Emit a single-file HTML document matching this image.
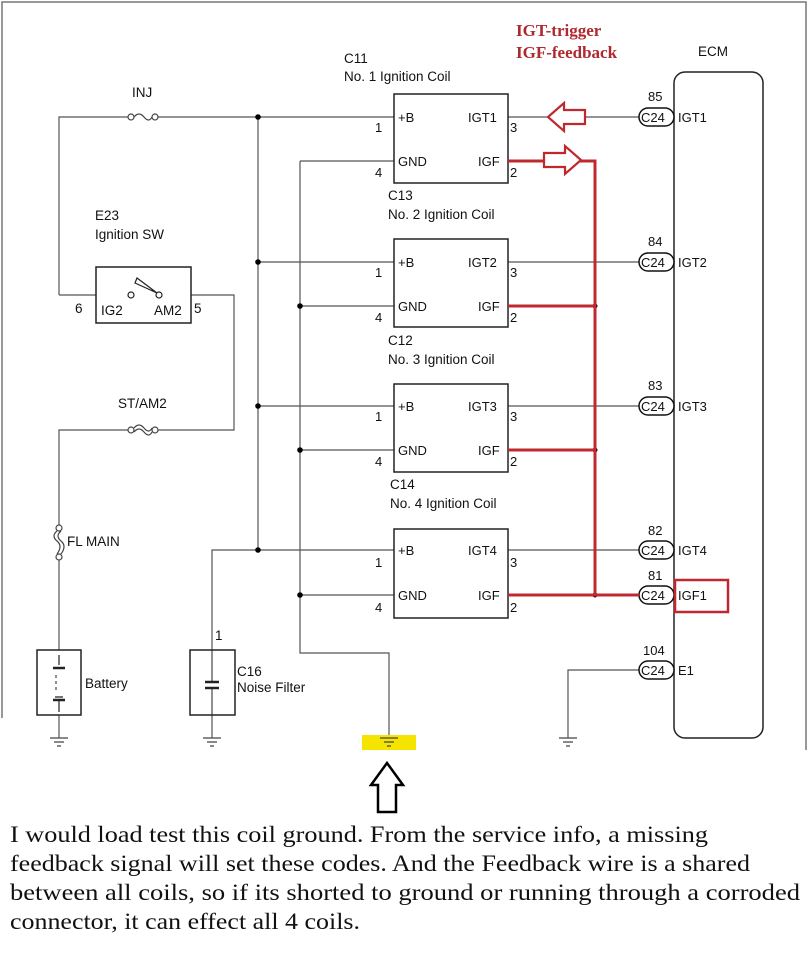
<!DOCTYPE html>
<html><head><meta charset="utf-8"><style>
html,body{margin:0;padding:0;background:#fff;}
svg{display:block;}
text{font-family:"Liberation Sans",sans-serif;}
</style></head><body>
<svg width="810" height="961" viewBox="0 0 810 961" xmlns="http://www.w3.org/2000/svg">
<g stroke="#777" stroke-width="1.5" fill="none">
<path d="M2,718 V2 H806 V750"/>
</g>
<g stroke="#555" stroke-width="1.2" fill="none">
<path d="M59,295 V117 H128 M157,117 H394"/>
<path d="M59,295 H96 M191,295 H234 V430 H155 M130,430 H59 V525 M59,560 V650 M59,715 V738"/>
<path d="M258,117 V550"/>
<path d="M258,262 H394 M258,406 H394 M212,650 V550 H394"/>
<path d="M212,715 V738"/>
<path d="M300,161 H394 M300,306 H394 M300,450 H394 M300,595 H394"/>
<path d="M300,161 V653 H389 V738"/>
<path d="M508,117 H639 M508,262 H639 M508,406 H639 M508,550 H639"/>
<path d="M639,670 H568 V738"/>
</g>
<g fill="#000">
<circle cx="258" cy="117" r="2.8"/><circle cx="258" cy="262" r="2.8"/><circle cx="258" cy="406" r="2.8"/><circle cx="258" cy="550" r="2.8"/>
<circle cx="300" cy="306" r="2.8"/><circle cx="300" cy="450" r="2.8"/><circle cx="300" cy="595" r="2.8"/>
<circle cx="595" cy="306" r="2.5"/><circle cx="595" cy="450" r="2.5"/><circle cx="595" cy="595" r="2.5"/>
</g>
<g stroke="#444" stroke-width="1.2" fill="#fff">
<circle cx="131" cy="117" r="3"/><circle cx="155" cy="117" r="3"/>
<path d="M134,117 q5,-6 10,0 q5,6 8,0" fill="none"/>
<circle cx="131" cy="430" r="3"/><circle cx="155" cy="430" r="3"/>
<path d="M134,428 q5,-6 10,0 q5,6 8,0 M134,432 q5,-6 10,0 q5,6 8,0" fill="none"/>
<circle cx="59" cy="528" r="3"/><circle cx="59" cy="557" r="3"/>
<path d="M57,531 q-6,5 0,10 q6,5 0,13 M61,531 q-6,5 0,10 q6,5 0,13" fill="none"/>
</g>
<g stroke="#222" stroke-width="1.5" fill="none">
<rect x="96" y="267" width="95" height="56"/>
<rect x="394" y="94" width="114" height="89"/>
<rect x="394" y="239" width="114" height="88"/>
<rect x="394" y="384" width="114" height="88"/>
<rect x="394" y="529" width="114" height="89"/>
<rect x="674" y="72" width="89" height="666" rx="11"/>
<rect x="37" y="650" width="44" height="65"/>
<rect x="190" y="650" width="45" height="65"/>
</g>
<g stroke="#222" stroke-width="1.2" fill="#fff">
<circle cx="131" cy="295" r="3"/><circle cx="159" cy="295" r="3"/>
<path d="M157,293 L137,278 L135,283 Z"/>
</g>
<g stroke="#222" stroke-width="2">
<path d="M53,668 H65 M55,697 H63 M59,655 V665 M59,699 V712" stroke-width="1.2"/>
<path d="M53,668 H65 M53,700 H65" stroke-width="2.5"/>
<path d="M56,675 V690" stroke-width="1" stroke-dasharray="3,3"/>
<path d="M205,682 H219 M205,688 H219" stroke-width="2.5"/>
<path d="M212,650 V682 M212,688 V715" stroke-width="1"/>
</g>
<rect x="362" y="735" width="54" height="15" fill="#f5e400"/>
<g stroke="#444" stroke-width="1.3">
<path d="M50,738 H68 M54,742 H64 M57,746 H61"/>
<path d="M203,738 H221 M207,742 H217 M210,746 H214"/>
<path d="M380,738 H398 M384,742 H394 M387,746 H391"/>
<path d="M559,738 H577 M563,742 H573 M566,746 H570"/>
</g>
<g stroke="#111" stroke-width="1.5" fill="#fff">
<rect x="639" y="108" width="35" height="18" rx="9"/>
<rect x="639" y="253" width="35" height="18" rx="9"/>
<rect x="639" y="397" width="35" height="18" rx="9"/>
<rect x="639" y="541" width="35" height="18" rx="9"/>
<rect x="639" y="586" width="35" height="18" rx="9"/>
<rect x="639" y="661" width="35" height="18" rx="9"/>
</g>
<g stroke="#c0282f" stroke-width="3" fill="none">
<path d="M508,161 H595 V595 M508,306 H595 M508,450 H595 M508,595 H639"/>
</g>
<g stroke="#c0282f" stroke-width="2.2" fill="#fff">
<path d="M548,117 L564,103 V110 H585 V124 H564 V131 Z"/>
<path d="M565,164 L581,150 V157 H602 V171 H581 V178 Z" transform="rotate(180 573 162)"/>
</g>
<rect x="675" y="580" width="53" height="32" stroke="#c0282f" stroke-width="2.5" fill="none"/>
<path d="M387,763 L403,785 H396 V812 H378 V785 H371 Z" fill="#fff" stroke="#000" stroke-width="2.5"/>
<g font-size="13.5" fill="#111">
<text x="132" y="97">INJ</text>
<text x="344" y="63">C11</text><text x="344" y="81">No. 1 Ignition Coil</text>
<text x="388" y="200">C13</text><text x="388" y="219">No. 2 Ignition Coil</text>
<text x="388" y="345">C12</text><text x="388" y="364">No. 3 Ignition Coil</text>
<text x="390" y="489">C14</text><text x="390" y="508">No. 4 Ignition Coil</text>
<text x="95" y="220">E23</text><text x="95" y="239">Ignition SW</text>
<text x="75" y="313">6</text><text x="101" y="315">IG2</text><text x="154" y="315">AM2</text><text x="194" y="313">5</text>
<text x="118" y="408">ST/AM2</text>
<text x="67" y="546">FL MAIN</text>
<text x="85" y="688">Battery</text>
<text x="215" y="640">1</text>
<text x="237" y="676">C16</text><text x="237" y="692">Noise Filter</text>
<text x="698" y="56">ECM</text>
</g>
<g font-size="13" fill="#111">
<text x="375" y="132">1</text><text x="375" y="177">4</text>
<text x="375" y="277">1</text><text x="375" y="322">4</text>
<text x="375" y="421">1</text><text x="375" y="466">4</text>
<text x="375" y="567">1</text><text x="375" y="612">4</text>
<text x="398" y="122">+B</text><text x="398" y="166">GND</text>
<text x="398" y="267">+B</text><text x="398" y="311">GND</text>
<text x="398" y="411">+B</text><text x="398" y="455">GND</text>
<text x="398" y="555">+B</text><text x="398" y="600">GND</text>
<text x="468" y="122">IGT1</text><text x="478" y="166">IGF</text>
<text x="468" y="267">IGT2</text><text x="478" y="311">IGF</text>
<text x="468" y="411">IGT3</text><text x="478" y="455">IGF</text>
<text x="468" y="555">IGT4</text><text x="478" y="600">IGF</text>
<text x="510" y="132">3</text><text x="510" y="177">2</text>
<text x="510" y="277">3</text><text x="510" y="322">2</text>
<text x="510" y="421">3</text><text x="510" y="466">2</text>
<text x="510" y="567">3</text><text x="510" y="612">2</text>
<text x="648" y="101">85</text><text x="648" y="246">84</text><text x="648" y="390">83</text>
<text x="648" y="535">82</text><text x="648" y="580">81</text><text x="643" y="655">104</text>
<text x="678" y="122">IGT1</text><text x="678" y="267">IGT2</text><text x="678" y="411">IGT3</text>
<text x="678" y="555">IGT4</text><text x="678" y="600">IGF1</text><text x="678" y="675">E1</text>
<text x="641" y="122">C24</text><text x="641" y="267">C24</text><text x="641" y="411">C24</text>
<text x="641" y="555">C24</text><text x="641" y="600">C24</text><text x="641" y="675">C24</text>
</g>
<g font-weight="bold" font-size="17" fill="#b0282f">
<text x="516" y="36" style="font-family:'Liberation Serif',serif">IGT-trigger</text>
<text x="516" y="58" style="font-family:'Liberation Serif',serif">IGF-feedback</text>
</g>
<g font-size="23" fill="#111">
<text x="10" y="842" textLength="698" lengthAdjust="spacingAndGlyphs" style="font-family:'Liberation Serif',serif">I would load test this coil ground. From the service info, a missing</text>
<text x="10" y="871" textLength="740" lengthAdjust="spacingAndGlyphs" style="font-family:'Liberation Serif',serif">feedback signal will set these codes. And the Feedback wire is a shared</text>
<text x="10" y="900" textLength="790" lengthAdjust="spacingAndGlyphs" style="font-family:'Liberation Serif',serif">between all coils, so if its shorted to ground or running through a corroded</text>
<text x="10" y="929" textLength="350" lengthAdjust="spacingAndGlyphs" style="font-family:'Liberation Serif',serif">connector, it can effect all 4 coils.</text>
</g>
</svg>
</body></html>
